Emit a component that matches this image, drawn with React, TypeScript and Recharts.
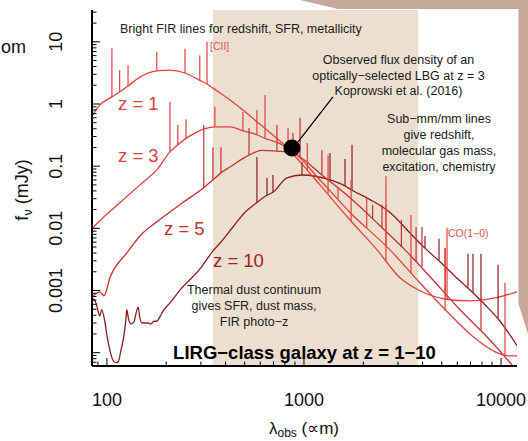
import React from 'react';
import { LineChart, Line, XAxis, YAxis, ReferenceArea, ReferenceDot, ReferenceLine } from 'recharts';

const FONT = '"Liberation Sans", Arial, Helvetica, sans-serif';

// ---------- data (observed wavelength in micron, flux density in mJy) ----------
const lambdaZ1 = [84, 92, 106, 116, 128, 147, 179, 209, 249, 296, 322, 345, 421, 490, 564, 649, 820, 955, 1205, 1713, 2349, 3070, 3880, 5196, 6962, 9326, 12050];
const fluxZ1 = [0.64, 0.96, 1.3, 1.56, 1.95, 2.7, 3.4, 3.5, 3.15, 2.4, 2.1, 1.8, 1.16, 0.8, 0.55, 0.38, 0.2, 0.117, 0.05, 0.0136, 0.0045, 0.0016, 0.00099, 0.00073, 0.00068, 0.00076, 0.00095];
const lineLambdaZ1 = [106, 116, 128, 179, 249, 296, 322, 1040, 1325, 1734, 2606, 5321];
const lineBaseZ1 = [1.3, 1.56, 1.95, 3.4, 3.15, 2.4, 2.1, 0.087, 0.036, 0.013, 0.003, 0.00071];
const linePeakZ1 = [7.9, 3.5, 4.2, 6.9, 7.7, 6.1, 10, 0.236, 0.15, 0.06, 0.069, 0.0102];

const lambdaZ3 = [84, 92, 110, 147, 179, 209, 229, 252, 280, 314, 353, 421, 490, 577, 634, 755, 830, 869, 1205, 1713, 2733, 3880, 5510, 7384, 9326, 11120, 12050];
const fluxZ3 = [0.0098, 0.0132, 0.022, 0.05, 0.087, 0.17, 0.22, 0.28, 0.34, 0.4, 0.43, 0.43, 0.37, 0.32, 0.28, 0.23, 0.19, 0.175, 0.06, 0.018, 0.0045, 0.00132, 0.00041, 0.00017, 0.000103, 0.000089, 0.000089];
const lineLambdaZ3 = [209, 229, 252, 353, 490, 577, 634, 830, 1489, 2081, 2606, 3491, 5202, 10470];
const lineBaseZ3 = [0.17, 0.22, 0.28, 0.43, 0.37, 0.32, 0.28, 0.19, 0.03, 0.0102, 0.0052, 0.0019, 0.00047, 0.000089];
const linePeakZ3 = [1.08, 0.46, 0.57, 0.9, 0.74, 0.8, 1.4, 0.41, 0.046, 0.031, 0.024, 0.0164, 0.0048, 0.00132];

const lambdaZ5 = [84, 92, 96.5, 104, 126, 152, 179, 243, 310, 345, 379, 421, 526, 612, 729, 879, 955, 1233, 1713, 2432, 3257, 4364, 6194, 8787, 12050];
const fluxZ5 = [0.00079, 0.00095, 0.00082, 0.00166, 0.004, 0.0084, 0.0127, 0.026, 0.045, 0.06, 0.078, 0.097, 0.15, 0.18, 0.175, 0.163, 0.14, 0.072, 0.031, 0.011, 0.0045, 0.00166, 0.00049, 0.00016, 0.000051];
const lineLambdaZ5 = [310, 345, 379, 526, 729, 879, 955, 1233, 2230, 2488, 3121, 3706, 3970, 5202, 7910];
const lineBaseZ5 = [0.045, 0.06, 0.078, 0.15, 0.175, 0.163, 0.14, 0.072, 0.014, 0.0102, 0.005, 0.0029, 0.0024, 0.00082, 0.00023];
const linePeakZ5 = [0.46, 0.2, 0.2, 0.41, 0.46, 0.34, 0.6, 0.18, 0.024, 0.024, 0.0136, 0.0105, 0.0105, 0.0048, 0.00071];

const lambdaZ10 = [84, 88, 92, 94, 97.7, 100, 104, 107, 111, 114, 118, 122, 125, 126, 129, 132, 137, 140, 144, 147, 151, 161, 167, 173, 179, 186, 192, 209, 235, 296, 345, 375, 436, 501, 577, 649, 696, 820, 977, 1355, 1615, 1753, 2163, 2733, 3532, 4113, 4900, 5834, 6962, 8293, 9886, 12050];
const fluxZ10 = [0.00076, 0.00063, 0.00039, 0.00049, 0.00031, 0.00019, 0.000103, 0.000077, 0.000069, 0.000071, 0.000111, 0.00019, 0.00036, 0.00049, 0.00034, 0.00029, 0.00031, 0.00041, 0.00054, 0.00036, 0.0003, 0.0003, 0.00029, 0.00032, 0.00032, 0.00038, 0.00046, 0.00063, 0.00102, 0.0022, 0.0043, 0.0058, 0.0105, 0.018, 0.026, 0.034, 0.038, 0.065, 0.072, 0.06, 0.048, 0.041, 0.029, 0.018, 0.0078, 0.0048, 0.0029, 0.0017, 0.00102, 0.00059, 0.00032, 0.00013];
const lineLambdaZ10 = [577, 649, 696, 977, 1355, 1615, 1753, 4113, 4844, 6795, 7205, 7910, 9658];
const lineBaseZ10 = [0.026, 0.034, 0.038, 0.072, 0.06, 0.048, 0.041, 0.0048, 0.003, 0.0011, 0.00092, 0.00068, 0.00035];
const linePeakZ10 = [0.14, 0.065, 0.072, 0.117, 0.163, 0.13, 0.22, 0.0075, 0.0068, 0.0039, 0.0039, 0.0039, 0.0026];

const bandRange = [345, 3800];
const lbgPoint = { lambda: 869, flux: 0.196 };
const pointerFrom = { lambda: 933, flux: 0.245 };
const pointerTo = { lambda: 1403, flux: 1.3 };

const xDomain = [84, 12050];
const yDomain = [6.1e-5, 32.5];
const xMajor = [100, 1000, 10000];
const xMinor = [90, 200, 300, 400, 500, 600, 700, 800, 900, 2000, 3000, 4000, 5000, 6000, 7000, 8000, 9000];
const yMajor = [0.0001, 0.001, 0.01, 0.1, 1, 10];
const yMinor = [7e-5, 8e-5, 9e-5, 2e-4, 3e-4, 4e-4, 5e-4, 6e-4, 7e-4, 8e-4, 9e-4, 0.002, 0.003, 0.004, 0.005, 0.006, 0.007, 0.008, 0.009, 0.02, 0.03, 0.04, 0.05, 0.06, 0.07, 0.08, 0.09, 0.2, 0.3, 0.4, 0.5, 0.6, 0.7, 0.8, 0.9, 2, 3, 4, 5, 6, 7, 8, 9, 20, 30];
const yTickLabels = ['0.001', '0.01', '0.1', '1', '10'];

const C1 = '#e8403c';
const C3 = '#e2413e';
const C5 = '#c83030';
const C10 = '#8e1e1e';

// ---------- helpers ----------
const curve = (xs: number[], ys: number[]) => xs.map((x, i) => ({ x, f: ys[i] }));
const spikes = (xs: number[], base: number[], peak: number[]) =>
  xs.flatMap((x, i) => [
    { x, f: base[i] },
    { x, f: peak[i] },
    { x, f: null as number | null },
  ]);

const near = (a: number, b: number) => Math.abs(Math.log10(a) - Math.log10(b)) < 1e-6;
const xTicks = [...xMajor, ...xMinor].sort((a, b) => a - b);
const yTicks = [...yMajor, ...yMinor].sort((a, b) => a - b);
const isMajorX = (v: number) => xMajor.some((m) => near(m, v));
const isMajorY = (v: number) => yMajor.some((m) => near(m, v));
const yLabel = (v: number) => yTickLabels.find((t) => near(parseFloat(t), v));

const BottomTick = (p: any) => {
  const { x, y, payload } = p;
  const major = isMajorX(payload.value);
  return (
    <g>
      <line x1={x} x2={x} y1={y} y2={y - (major ? 8 : 4.5)} stroke="#000" strokeWidth={1} />
      {major && (
        <text x={x} y={y + 34} textAnchor="middle" dominantBaseline="central" fontSize={18} fontFamily={FONT} fill="#111">
          {payload.value}
        </text>
      )}
    </g>
  );
};
const TopTick = (p: any) => {
  const { x, y, payload } = p;
  const major = isMajorX(payload.value);
  return <line x1={x} x2={x} y1={y} y2={y + (major ? 8 : 4.5)} stroke="#000" strokeWidth={1} />;
};
const LeftTick = (p: any) => {
  const { x, y, payload } = p;
  const major = isMajorY(payload.value);
  const lab = yLabel(payload.value);
  return (
    <g>
      <line x1={x} x2={x + (major ? 8 : 4.5)} y1={y} y2={y} stroke="#000" strokeWidth={1} />
      {lab && (
        <text x={x - 35.5} y={y} transform={`rotate(-90, ${x - 35.5}, ${y})`} textAnchor="middle" dominantBaseline="central" fontSize={18} fontFamily={FONT} fill="#111">
          {lab}
        </text>
      )}
    </g>
  );
};
const RightTick = (p: any) => {
  const { x, y, payload } = p;
  const major = isMajorY(payload.value);
  return <line x1={x} x2={x - (major ? 8 : 4.5)} y1={y} y2={y} stroke="#000" strokeWidth={1} />;
};

const T = (props: any) => <text fontFamily={FONT} dominantBaseline="central" {...props} />;

export default function App() {
  const axisLine = { stroke: '#000', strokeWidth: 2 };
  const series = [
    { key: 'z10', c: C10, curve: curve(lambdaZ10, fluxZ10), sp: spikes(lineLambdaZ10, lineBaseZ10, linePeakZ10) },
    { key: 'z5', c: C5, curve: curve(lambdaZ5, fluxZ5), sp: spikes(lineLambdaZ5, lineBaseZ5, linePeakZ5) },
    { key: 'z3', c: C3, curve: curve(lambdaZ3, fluxZ3), sp: spikes(lineLambdaZ3, lineBaseZ3, linePeakZ3) },
    { key: 'z1', c: C1, curve: curve(lambdaZ1, fluxZ1), sp: spikes(lineLambdaZ1, lineBaseZ1, linePeakZ1) },
  ];
  return (
    <div style={{ position: 'absolute', left: 0, top: 0, width: 528, height: 441, background: '#fff', overflow: 'hidden' }}>
      <div style={{ position: 'absolute', left: 0, top: 0 }}>
        <LineChart width={528} height={441} margin={{ top: 10, right: 11, bottom: 0, left: 0 }}>
          <XAxis xAxisId="b" dataKey="x" type="number" scale="log" domain={xDomain} allowDataOverflow ticks={xTicks} interval={0}
            orientation="bottom" height={75} tickSize={0} tickMargin={0} tickLine={false} axisLine={axisLine} tick={<BottomTick />} />
          <XAxis xAxisId="t" dataKey="x" type="number" scale="log" domain={xDomain} allowDataOverflow ticks={xTicks} interval={0}
            orientation="top" height={0} tickSize={0} tickMargin={0} tickLine={false} axisLine={axisLine} tick={<TopTick />} />
          <YAxis yAxisId="l" dataKey="f" type="number" scale="log" domain={yDomain} allowDataOverflow ticks={yTicks} interval={0}
            orientation="left" width={92} tickSize={0} tickMargin={0} tickLine={false} axisLine={axisLine} tick={<LeftTick />} />
          <YAxis yAxisId="r" dataKey="f" type="number" scale="log" domain={yDomain} allowDataOverflow ticks={yTicks} interval={0}
            orientation="right" width={0} tickSize={0} tickMargin={0} tickLine={false} axisLine={axisLine} tick={<RightTick />} />
          <ReferenceArea xAxisId="b" yAxisId="l" x1={bandRange[0]} x2={bandRange[1]} y1={yDomain[0]} y2={yDomain[1]} fill="#ecdfcf" fillOpacity={1} stroke="none" ifOverflow="hidden" />
          {series.map((s) => (
            <Line key={s.key} xAxisId="b" yAxisId="l" data={s.curve} dataKey="f" type="monotone" stroke={s.c} strokeWidth={1.3} dot={false} activeDot={false} isAnimationActive={false} />
          ))}
          {series.map((s) => (
            <Line key={s.key + 's'} xAxisId="b" yAxisId="l" data={s.sp} dataKey="f" type="linear" connectNulls={false} stroke={s.c} strokeWidth={1.2} dot={false} activeDot={false} isAnimationActive={false} />
          ))}
          <ReferenceLine xAxisId="b" yAxisId="l" segment={[{ x: pointerFrom.lambda, y: pointerFrom.flux }, { x: pointerTo.lambda, y: pointerTo.flux }]} stroke="#000" strokeWidth={1.3} ifOverflow="visible" />
          <ReferenceDot xAxisId="b" yAxisId="l" x={lbgPoint.lambda} y={lbgPoint.flux} r={8.5} fill="#000" stroke="none" ifOverflow="visible" />
        </LineChart>
      </div>
      <svg width={528} height={441} style={{ position: 'absolute', left: 0, top: 0, pointerEvents: 'none' }}>
        <polygon points="300,0 528,0 528,334 518.5,304 518.5,9 338,9" fill="#c7a898" />
        <text x={1} y={47} fontFamily={FONT} fontSize={18} fill="#111" dominantBaseline="central">om</text>
        <T x={120} y={29} fontSize={12.5} fill="#1a1a1a">Bright FIR lines for redshift, SFR, metallicity</T>
        <T x={210} y={46} fontSize={10.5} fill="#e8504a">[CII]</T>
        <T x={448} y={233} fontSize={10.5} fill="#e8504a">CO(1−0)</T>
        <T x={398.5} y={60} fontSize={12.5} fill="#1a1a1a" textAnchor="middle">Observed flux density of an</T>
        <T x={398.5} y={75.5} fontSize={12.5} fill="#1a1a1a" textAnchor="middle">optically−selected LBG at z = 3</T>
        <T x={398.5} y={91} fontSize={12.5} fill="#1a1a1a" textAnchor="middle">Koprowski et al. (2016)</T>
        <T x={439} y={118.5} fontSize={12.5} fill="#1a1a1a" textAnchor="middle">Sub−mm/mm lines</T>
        <T x={439} y={134.5} fontSize={12.5} fill="#1a1a1a" textAnchor="middle">give redshift,</T>
        <T x={439} y={150.5} fontSize={12.5} fill="#1a1a1a" textAnchor="middle">molecular gas mass,</T>
        <T x={439} y={166.5} fontSize={12.5} fill="#1a1a1a" textAnchor="middle">excitation, chemistry</T>
        <T x={254} y={289.5} fontSize={12.5} fill="#1a1a1a" textAnchor="middle">Thermal dust continuum</T>
        <T x={254} y={305.5} fontSize={12.5} fill="#1a1a1a" textAnchor="middle">gives SFR, dust mass,</T>
        <T x={254} y={321.5} fontSize={12.5} fill="#1a1a1a" textAnchor="middle">FIR photo−z</T>
        <T x={118} y={103} fontSize={18.5} fill={C1}>z = 1</T>
        <T x={118} y={155} fontSize={18.5} fill={C3}>z = 3</T>
        <T x={164} y={228} fontSize={18.5} fill={C5}>z = 5</T>
        <T x={213} y={260} fontSize={18.5} fill="#9a2626">z = 10</T>
        <T x={304.5} y={352} fontSize={18.5} fontWeight="bold" fill="#000" textAnchor="middle">LIRG−class galaxy at z = 1−10</T>
        <text x={304} y={434} fontFamily={FONT} fontSize={17} fill="#111" textAnchor="middle">
          λ<tspan fontSize={12} dy={3}>obs</tspan><tspan dy={-3}> (∝m)</tspan>
        </text>
        <text x={0} y={0} transform="translate(28, 190) rotate(-90)" fontFamily={FONT} fontSize={18} fill="#111" textAnchor="middle">
          f<tspan fontSize={12.5} dy={4}>ν</tspan><tspan dy={-4}> (mJy)</tspan>
        </text>
      </svg>
    </div>
  );
}
